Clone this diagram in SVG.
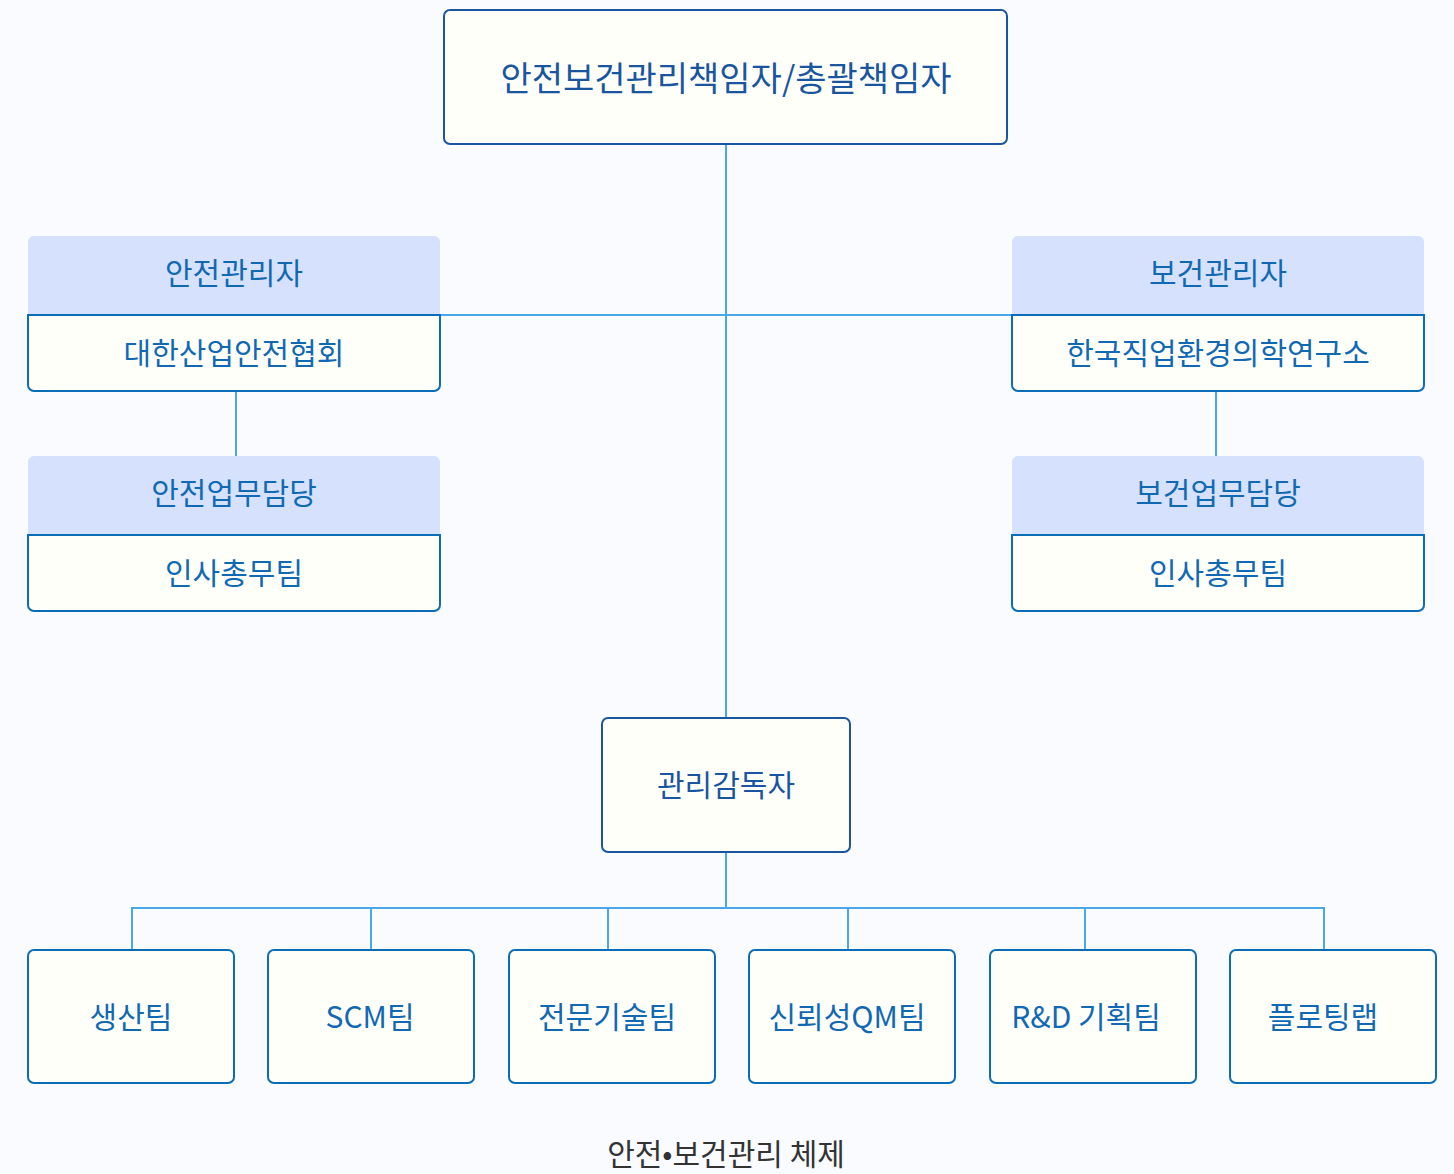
<svg xmlns="http://www.w3.org/2000/svg" width="1454" height="1174" viewBox="0 0 1454 1174">
<style>
text{font-family:"Noto Sans CJK KR","Noto Sans",sans-serif;text-anchor:middle;dominant-baseline:central;}
.box{fill:#fffffa;stroke:#0b6db7;stroke-width:2;}
.main{fill:#fffffa;stroke:#1a56a0;stroke-width:2;}
.hdr{fill:#d6e2fd;}
.t{font-size:30px;fill:#1169b4;}
.tm{font-size:30px;fill:#1a56a0;}
.con line{stroke:#4aa8e8;stroke-width:2;}
</style>
<rect width="1454" height="1174" fill="#f9fbff"/>
<g class="con">
<line x1="726" y1="144" x2="726" y2="718"/>
<line x1="440" y1="315" x2="1012" y2="315"/>
<line x1="236" y1="391" x2="236" y2="456"/>
<line x1="1216" y1="391" x2="1216" y2="456"/>
<line x1="726" y1="852" x2="726" y2="908"/>
<line x1="131" y1="908" x2="1325" y2="908"/>
<line x1="132" y1="908" x2="132" y2="950"/>
<line x1="371" y1="908" x2="371" y2="950"/>
<line x1="608" y1="908" x2="608" y2="950"/>
<line x1="848" y1="908" x2="848" y2="950"/>
<line x1="1085" y1="908" x2="1085" y2="950"/>
<line x1="1324" y1="908" x2="1324" y2="950"/>
</g>
<g id="top">
<rect class="main" x="444" y="10" width="563" height="134" rx="6"/>
<text class="tm" x="726" y="76" style="font-size:34px">안전보건관리책임자/총괄책임자</text>
</g>
<g id="safety-manager">
<path class="hdr" d="M28,315 V242 a6,6 0 0 1 6,-6 H434 a6,6 0 0 1 6,6 V315 Z"/>
<text class="t" x="234" y="271">안전관리자</text>
<path class="box" d="M28,315 H440 V385 a6,6 0 0 1 -6,6 H34 a6,6 0 0 1 -6,-6 Z"/>
<text class="t" x="234" y="351">대한산업안전협회</text>
</g>
<g id="safety-staff">
<path class="hdr" d="M28,535 V462 a6,6 0 0 1 6,-6 H434 a6,6 0 0 1 6,6 V535 Z"/>
<text class="t" x="234" y="491">안전업무담당</text>
<path class="box" d="M28,535 H440 V605 a6,6 0 0 1 -6,6 H34 a6,6 0 0 1 -6,-6 Z"/>
<text class="t" x="234" y="571">인사총무팀</text>
</g>
<g id="health-manager">
<path class="hdr" d="M1012,315 V242 a6,6 0 0 1 6,-6 H1418 a6,6 0 0 1 6,6 V315 Z"/>
<text class="t" x="1218" y="271">보건관리자</text>
<path class="box" d="M1012,315 H1424 V385 a6,6 0 0 1 -6,6 H1018 a6,6 0 0 1 -6,-6 Z"/>
<text class="t" x="1218" y="351">한국직업환경의학연구소</text>
</g>
<g id="health-staff">
<path class="hdr" d="M1012,535 V462 a6,6 0 0 1 6,-6 H1418 a6,6 0 0 1 6,6 V535 Z"/>
<text class="t" x="1218" y="491">보건업무담당</text>
<path class="box" d="M1012,535 H1424 V605 a6,6 0 0 1 -6,6 H1018 a6,6 0 0 1 -6,-6 Z"/>
<text class="t" x="1218" y="571">인사총무팀</text>
</g>
<g id="supervisor">
<rect class="main" x="602" y="718" width="248" height="134" rx="6"/>
<text class="tm" x="726" y="783">관리감독자</text>
</g>
<g id="team1"><rect class="box" x="28" y="950" width="206" height="133" rx="6"/><text class="t" x="131" y="1015">생산팀</text></g>
<g id="team2"><rect class="box" x="268" y="950" width="206" height="133" rx="6"/><text class="t" x="370" y="1015">SCM팀</text></g>
<g id="team3"><rect class="box" x="509" y="950" width="206" height="133" rx="6"/><text class="t" x="607" y="1015">전문기술팀</text></g>
<g id="team4"><rect class="box" x="749" y="950" width="206" height="133" rx="6"/><text class="t" x="847" y="1015">신뢰성QM팀</text></g>
<g id="team5"><rect class="box" x="990" y="950" width="206" height="133" rx="6"/><text class="t" x="1086" y="1015">R&amp;D 기획팀</text></g>
<g id="team6"><rect class="box" x="1230" y="950" width="206" height="133" rx="6"/><text class="t" x="1323" y="1015">플로팅랩</text></g>
<text x="726" y="1152" style="font-size:30px;fill:#333333">안전•보건관리 체제</text>
</svg>
